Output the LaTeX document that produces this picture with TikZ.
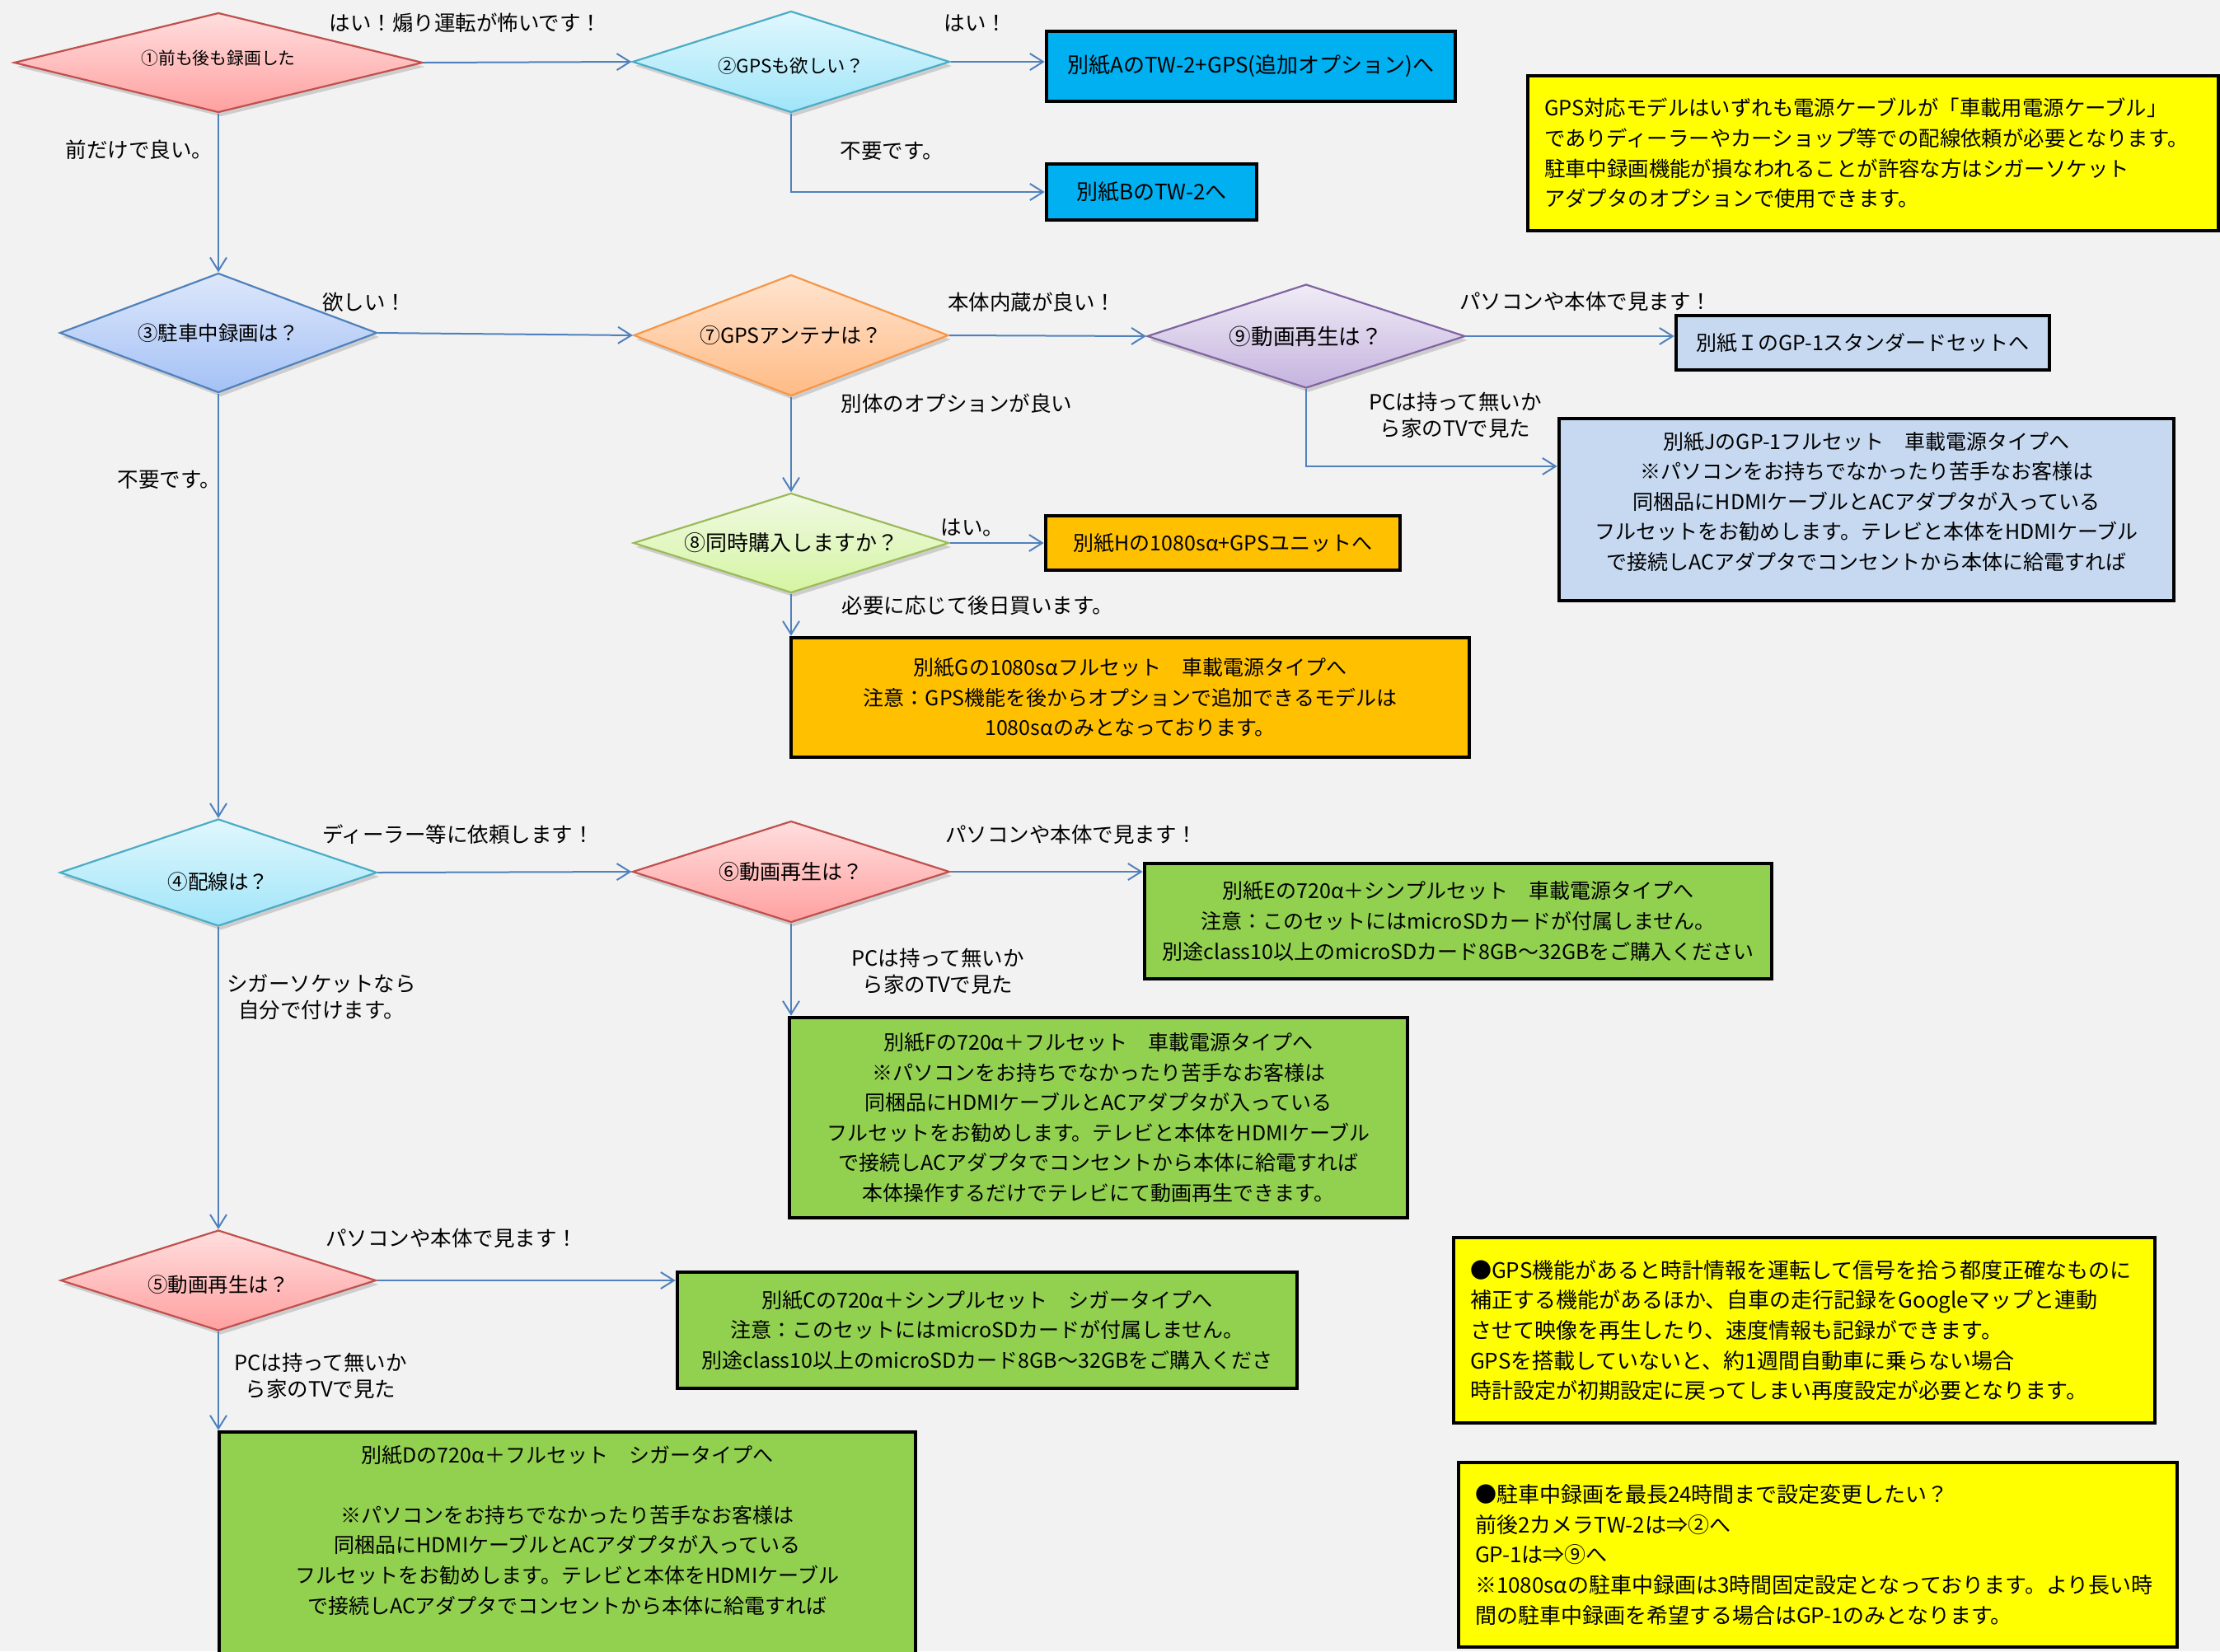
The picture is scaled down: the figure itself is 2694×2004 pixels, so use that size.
\documentclass[tikz,border=0pt]{standalone}
\usepackage{fontspec}
\setmainfont{Noto Sans CJK JP}
\usetikzlibrary{shapes.geometric,arrows.meta,shadows,calc}

\definecolor{bg}{HTML}{F2F2F2}
\definecolor{connc}{HTML}{4F81BD}
\definecolor{redline}{HTML}{C0504D}\definecolor{redtop}{HTML}{FFDEDE}\definecolor{redbot}{HTML}{FFA0A0}
\definecolor{aqualine}{HTML}{4BACC6}\definecolor{aquatop}{HTML}{E0F7FD}\definecolor{aquabot}{HTML}{A0E5F9}
\definecolor{blueline}{HTML}{4F81BD}\definecolor{bluetop}{HTML}{DDE7FA}\definecolor{bluebot}{HTML}{A4C1F6}
\definecolor{orgline}{HTML}{F79646}\definecolor{orgtop}{HTML}{FFE4CF}\definecolor{orgbot}{HTML}{FFBB85}
\definecolor{purline}{HTML}{8064A2}\definecolor{purtop}{HTML}{F0ECF6}\definecolor{purbot}{HTML}{C5B3DF}
\definecolor{grnline}{HTML}{9BBB59}\definecolor{grntop}{HTML}{F0F9E3}\definecolor{grnbot}{HTML}{D5F5A2}
\definecolor{cyanbox}{HTML}{00B0F0}
\definecolor{lbluebox}{HTML}{C6D9F1}
\definecolor{goldbox}{HTML}{FFC000}
\definecolor{limebox}{HTML}{92D050}
\definecolor{yelbox}{HTML}{FFFF00}

% centred box text
\newcommand{\cb}[4]{\parbox[c][#2][c]{#1}{\centering\fontsize{#3}{18.3pt}\selectfont #4\par}}
% top aligned box text
\newcommand{\tb}[4]{\parbox[c][#2][t]{#1}{\centering\fontsize{12.5}{18.3pt}\selectfont\vspace*{#3}#4\par}}
% left aligned note text
\newcommand{\lb}[4]{\parbox[c][#2][c]{#1}{\raggedright\leftskip=10pt\fontsize{#3}{18.3pt}\selectfont #4\par}}
% diamond text moved vertically
\newcommand{\mv}[2]{\raisebox{#1}[0pt][0pt]{#2}}

\begin{document}
\begin{tikzpicture}[x=0.5pt,y=-0.5pt,
  dia/.style={diamond, inner sep=0pt, line width=1.1pt, align=center,
    drop shadow={shadow xshift=1.5pt, shadow yshift=-2.5pt, opacity=0.15, fill=black}},
  dred/.style={draw=redline, top color=redtop, bottom color=redbot},
  daqua/.style={draw=aqualine, top color=aquatop, bottom color=aquabot},
  dblue/.style={draw=blueline, top color=bluetop, bottom color=bluebot},
  dorg/.style={draw=orgline, top color=orgtop, bottom color=orgbot},
  dpur/.style={draw=purline, top color=purtop, bottom color=purbot},
  dgrn/.style={draw=grnline, top color=grntop, bottom color=grnbot},
  bx/.style={rectangle, draw=black, line width=2.3pt, inner sep=0pt},
  lab/.style={inner sep=0pt, align=center, font=\fontsize{12.75}{16}\selectfont},
  conn/.style={draw=connc, line width=1pt, -{Straight Barb[length=8pt,width=10pt]}}
]
\useasboundingbox (0,0) rectangle (2694,2004);
\clip (0,0) rectangle (2694,2004);
\fill[bg] (0,0) rectangle (2694,2004);

% ---------- diamonds ----------
\node[dia, dred, minimum width=248pt, minimum height=60.5pt, shape aspect=4.1,
  font=\fontsize{10.4}{12}\selectfont] (d1) at (265,76) {\mv{-1pt}{①前も後も録画した}};
\node[dia, daqua, minimum width=192.5pt, minimum height=61.5pt, shape aspect=3.13,
  font=\fontsize{11.2}{13}\selectfont] (d2) at (960,75) {\mv{-6.8pt}{②GPSも欲しい？}};
\node[dia, dblue, minimum width=192.5pt, minimum height=72.5pt, shape aspect=2.66,
  font=\fontsize{12.2}{14}\selectfont] (d3) at (265,404) {③駐車中録画は？};
\node[dia, dorg, minimum width=191pt, minimum height=73.5pt, shape aspect=2.6,
  font=\fontsize{12.5}{14}\selectfont] (d7) at (960,407) {⑦GPSアンテナは？};
\node[dia, dpur, minimum width=193pt, minimum height=63pt, shape aspect=3.06,
  font=\fontsize{13.3}{15}\selectfont] (d9) at (1585,408) {⑨動画再生は？};
\node[dia, dgrn, minimum width=191.5pt, minimum height=60.5pt, shape aspect=3.17,
  font=\fontsize{13}{15}\selectfont] (d8) at (960,659) {⑧同時購入しますか？};
\node[dia, daqua, minimum width=192.5pt, minimum height=65pt, shape aspect=2.96,
  font=\fontsize{12.3}{14}\selectfont] (d4) at (265,1059) {\mv{-10.2pt}{④配線は？}};
\node[dia, dred, minimum width=192.5pt, minimum height=61.5pt, shape aspect=3.13,
  font=\fontsize{12.5}{14}\selectfont] (d6) at (960,1058) {⑥動画再生は？};
\node[dia, dred, minimum width=191.5pt, minimum height=61pt, shape aspect=3.14,
  font=\fontsize{12.25}{14}\selectfont] (d5) at (265,1554) {\mv{-7.2pt}{⑤動画再生は？}};

% ---------- result boxes ----------
\node[bx, fill=cyanbox] (A) at (1518,80.5) {\cb{248pt}{42.5pt}{13}{別紙AのTW-2+GPS(追加オプション)へ}};
\node[bx, fill=cyanbox] (B) at (1397.5,233) {\cb{127.5pt}{34pt}{13}{別紙BのTW-2へ}};
\node[bx, fill=lbluebox] (I) at (2260.5,416) {\cb{226.5pt}{33pt}{12.5}{別紙ＩのGP-1スタンダードセットへ}};
\node[bx, fill=lbluebox] (J) at (2265,618.5) {\tb{373pt}{110.5pt}{8pt}{別紙JのGP-1フルセット　車載電源タイプへ\\※パソコンをお持ちでなかったり苦手なお客様は\\同梱品にHDMIケーブルとACアダプタが入っている\\フルセットをお勧めします。テレビと本体をHDMIケーブル\\で接続しACアダプタでコンセントから本体に給電すれば}};
\node[bx, fill=goldbox] (H) at (1484,659) {\cb{215pt}{33pt}{12.5}{別紙Hの1080sα+GPSユニットへ}};
\node[bx, fill=goldbox] (G) at (1371.5,846.5) {\cb{411.5pt}{72.5pt}{12.5}{別紙Gの1080sαフルセット　車載電源タイプへ\\注意：GPS機能を後からオプションで追加できるモデルは\\1080sαのみとなっております。}};
\node[bx, fill=limebox] (E) at (1769.5,1118) {\cb{380.5pt}{70pt}{12.5}{別紙Eの720α＋シンプルセット　車載電源タイプへ\\注意：このセットにはmicroSDカードが付属しません。\\別途class10以上のmicroSDカード8GB～32GBをご購入ください}};
\node[bx, fill=limebox] (F) at (1333,1356.5) {\cb{375pt}{121.5pt}{12.5}{別紙Fの720α＋フルセット　車載電源タイプへ\\※パソコンをお持ちでなかったり苦手なお客様は\\同梱品にHDMIケーブルとACアダプタが入っている\\フルセットをお勧めします。テレビと本体をHDMIケーブル\\で接続しACアダプタでコンセントから本体に給電すれば\\本体操作するだけでテレビにて動画再生できます。}};
\node[bx, fill=limebox] (C) at (1198,1614.5) {\cb{376pt}{70.5pt}{12.5}{別紙Cの720α＋シンプルセット　シガータイプへ\\注意：このセットにはmicroSDカードが付属しません。\\別途class10以上のmicroSDカード8GB～32GBをご購入くださ}};
\node[bx, fill=limebox] (D) at (688.5,1938) {\tb{422.5pt}{200pt}{8pt}{別紙Dの720α＋フルセット　シガータイプへ\\\mbox{}\\※パソコンをお持ちでなかったり苦手なお客様は\\同梱品にHDMIケーブルとACアダプタが入っている\\フルセットをお勧めします。テレビと本体をHDMIケーブル\\で接続しACアダプタでコンセントから本体に給電すれば}};

% ---------- notes ----------
\node[bx, fill=yelbox] (Y1) at (2273,186) {\lb{419pt}{94pt}{12.7}{GPS対応モデルはいずれも電源ケーブルが「車載用電源ケーブル」\\でありディーラーやカーショップ等での配線依頼が必要となります。\\駐車中録画機能が損なわれることが許容な方はシガーソケット\\アダプタのオプションで使用できます。}};
\node[bx, fill=yelbox] (Y2) at (2189.5,1614.5) {\lb{425.5pt}{112.5pt}{13}{●GPS機能があると時計情報を運転して信号を拾う都度正確なものに\\補正する機能があるほか、自車の走行記録をGoogleマップと連動\\させて映像を再生したり、速度情報も記録ができます。\\GPSを搭載していないと、約1週間自動車に乗らない場合\\時計設定が初期設定に戻ってしまい再度設定が必要となります。}};
\node[bx, fill=yelbox] (Y3) at (2206,1887) {\lb{436pt}{112pt}{13}{●駐車中録画を最長24時間まで設定変更したい？\\前後2カメラTW-2は⇒②へ\\GP-1は⇒⑨へ\\※1080sαの駐車中録画は3時間固定設定となっております。より長い時\\間の駐車中録画を希望する場合はGP-1のみとなります。}};

% ---------- connectors ----------
\draw[conn] (d1.east) -- (d2.west);
\draw[conn] (d2.east) -- (d2.east -| A.west);
\draw[conn] (d2.south) |- (B.west);
\draw[conn] (d1.south) -- (d3.north);
\draw[conn] (d3.east) -- (d7.west);
\draw[conn] (d7.east) -- (d9.west);
\draw[conn] (d9.east) -- (d9.east -| I.west);
\draw[conn] (d9.south) |- ($(J.north west)!0.267!(J.south west)$);
\draw[conn] (d7.south) -- (d8.north);
\draw[conn] (d8.east) -- (H.west);
\draw[conn] (d8.south) -- (d8.south |- G.north);
\draw[conn] (d3.south) -- (d4.north);
\draw[conn] (d4.east) -- (d6.west);
\draw[conn] (d6.east) -- (d6.east -| E.west);
\draw[conn] (d6.south) -- (d6.south |- F.north);
\draw[conn] (d4.south) -- (d5.north);
\draw[conn] (d5.east) -- (d5.east -| C.west);
\draw[conn] (d5.south) -- (d5.south |- D.north);

% ---------- labels ----------
\node[lab] (l1) at (565,28) {はい！煽り運転が怖いです！};
\node[lab] (l2) at (1184,28) {はい！};
\node[lab] (l3) at (169,182) {前だけで良い。};
\node[lab] (l4) at (1082,183) {不要です。};
\node[lab] (l5) at (442,367) {欲しい！};
\node[lab] (l6) at (1252,367) {本体内蔵が良い！};
\node[lab] (l7) at (1924,366) {パソコンや本体で見ます！};
\node[lab] (l8) at (1161,490) {別体のオプションが良い};
\node[lab] (l9) at (1766,504) {PCは持って無いか\\ら家のTVで見た};
\node[lab] (l10) at (1180,640) {はい。};
\node[lab] (l11) at (1186,735) {必要に応じて後日買います。};
\node[lab] (l12) at (205,582) {不要です。};
\node[lab] (l13) at (556,1013) {ディーラー等に依頼します！};
\node[lab] (l14) at (1300,1013) {パソコンや本体で見ます！};
\node[lab] (l15) at (1138,1179) {PCは持って無いか\\ら家のTVで見た};
\node[lab] (l16) at (390,1210) {シガーソケットなら\\自分で付けます。};
\node[lab] (l17) at (548,1503) {パソコンや本体で見ます！};
\node[lab] (l18) at (389,1670) {PCは持って無いか\\ら家のTVで見た};
\end{tikzpicture}
\end{document}
